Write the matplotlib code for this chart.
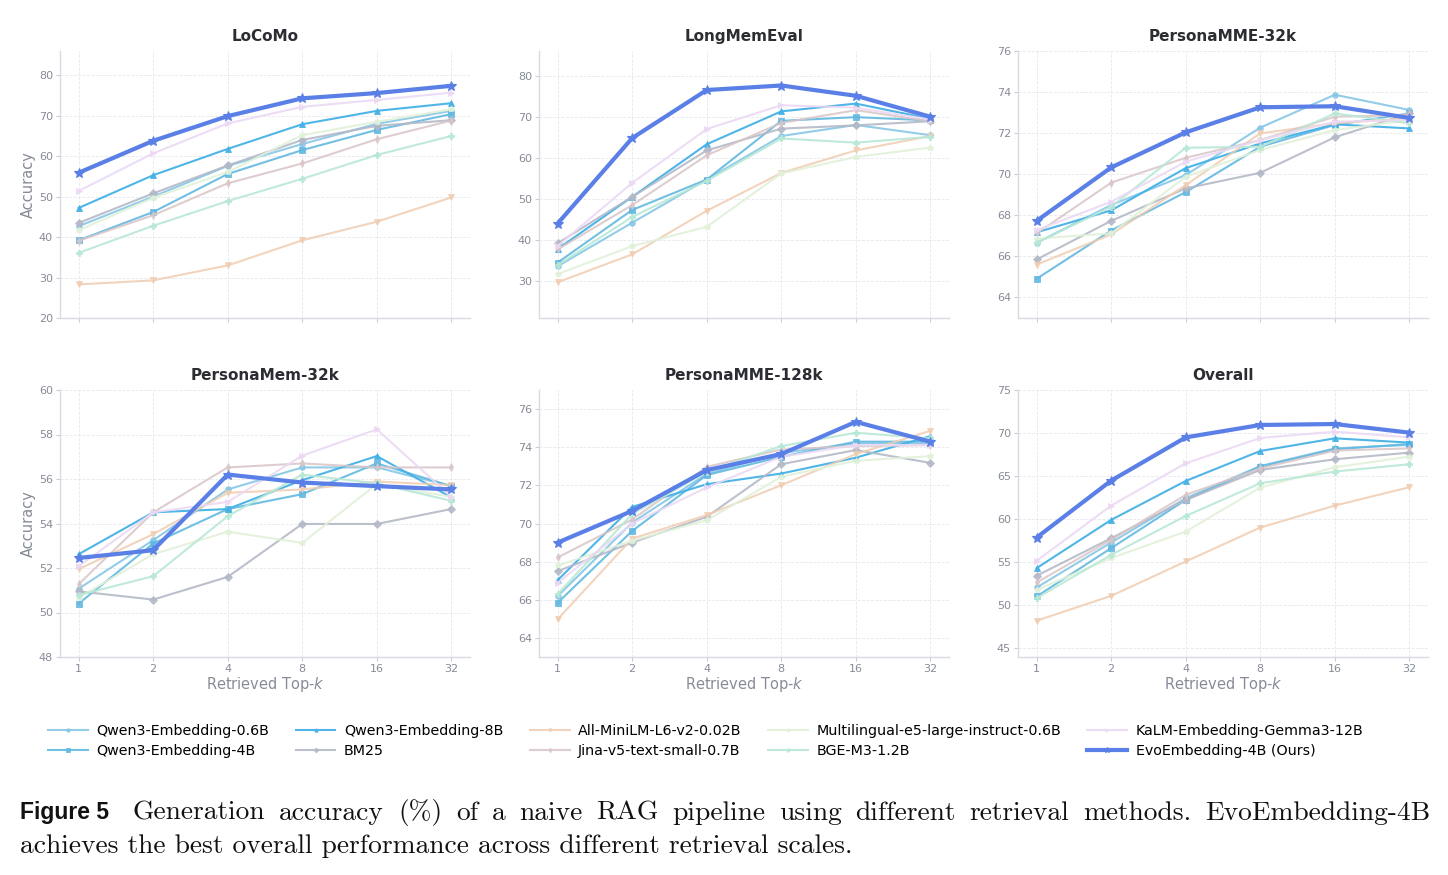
import matplotlib
matplotlib.use("Agg")
import matplotlib.pyplot as plt
import numpy as np

topk = [1, 2, 4, 8, 16, 32]
topk_labels = ["1", "2", "4", "8", "16", "32"]

methods = ["Qwen3-Embedding-0.6B", "Qwen3-Embedding-4B", "Qwen3-Embedding-8B", "BM25",
           "All-MiniLM-L6-v2-0.02B", "Jina-v5-text-small-0.7B",
           "Multilingual-e5-large-instruct-0.6B", "BGE-M3-1.2B",
           "KaLM-Embedding-Gemma3-12B", "EvoEmbedding-4B (Ours)"]

panels = ["LoCoMo", "LongMemEval", "PersonaMME-32k", "PersonaMem-32k", "PersonaMME-128k", "Overall"]

# values per panel, rows ordered as `methods`
locomo = [
    [42.7, 50.0, 57.6, 63.0, 68.0, 71.2],
    [39.2, 46.2, 55.6, 61.5, 66.5, 70.4],
    [47.2, 55.3, 61.8, 67.9, 71.2, 73.1],
    [43.5, 50.8, 57.7, 64.0, 67.5, 68.9],
    [28.3, 29.3, 33.0, 39.2, 43.8, 49.8],
    [39.1, 45.4, 53.3, 58.2, 64.2, 68.8],
    [41.7, 49.7, 56.1, 65.2, 68.5, 71.6],
    [36.1, 42.8, 48.9, 54.4, 60.3, 65.0],
    [51.4, 60.7, 68.1, 72.2, 73.9, 75.7],
    [55.9, 63.8, 69.9, 74.3, 75.6, 77.4],
]
longmemeval = [
    [33.6, 44.2, 54.7, 65.3, 68.0, 65.5],
    [34.5, 47.3, 54.7, 69.0, 69.9, 69.1],
    [37.8, 50.5, 63.3, 71.3, 73.2, 69.5],
    [39.2, 50.5, 61.8, 67.1, 67.9, 68.9],
    [29.7, 36.5, 47.1, 56.3, 61.8, 65.3],
    [37.7, 48.5, 60.6, 68.5, 71.6, 68.9],
    [31.7, 38.5, 43.2, 56.2, 60.2, 62.5],
    [33.9, 45.6, 54.4, 64.7, 63.7, 65.1],
    [38.5, 53.9, 67.0, 72.8, 72.2, 69.3],
    [44.0, 64.8, 76.5, 77.6, 75.1, 70.0],
]
personamme32k = [
    [66.66, 68.50, 69.96, 72.27, 73.87, 73.13],
    [64.91, 67.26, 69.13, 71.34, 72.40, 72.96],
    [67.17, 68.24, 70.30, 71.50, 72.43, 72.23],
    [65.85, 67.73, 69.31, 70.07, 71.80, 72.96],
    [65.60, 67.07, 69.47, 71.99, 72.48, 72.72],
    [67.12, 69.59, 70.80, 71.66, 72.80, 72.88],
    [66.87, 67.12, 69.88, 71.18, 72.15, 72.64],
    [66.66, 68.42, 71.29, 71.34, 72.96, 72.48],
    [67.28, 68.66, 70.61, 71.66, 72.56, 72.64],
    [67.73, 70.33, 72.04, 73.26, 73.31, 72.74],
]
personamem32k = [
    [51.07, 53.25, 55.53, 56.52, 56.52, 55.68],
    [50.40, 53.10, 54.65, 55.32, 56.70, 55.68],
    [52.62, 54.50, 54.65, 55.95, 57.03, 55.17],
    [50.95, 50.58, 51.60, 53.98, 53.98, 54.65],
    [51.95, 53.52, 55.38, 55.53, 55.88, 55.73],
    [51.27, 54.50, 56.52, 56.70, 56.52, 56.52],
    [50.67, 52.62, 53.63, 53.13, 55.77, 55.20],
    [50.78, 51.63, 54.33, 56.20, 55.80, 55.02],
    [52.08, 54.50, 54.97, 57.05, 58.23, 55.20],
    [52.45, 52.80, 56.20, 55.84, 55.68, 55.53],
]
personamme128k = [
    [66.19, 70.05, 72.60, 73.70, 74.20, 74.20],
    [65.84, 69.61, 72.54, 73.50, 74.29, 74.29],
    [67.03, 70.87, 72.06, 72.62, 73.45, 74.58],
    [67.50, 69.00, 70.35, 73.11, 73.85, 73.18],
    [64.98, 69.21, 70.44, 72.01, 73.64, 74.86],
    [68.22, 70.21, 72.97, 73.88, 74.06, 74.11],
    [67.80, 69.10, 70.17, 72.45, 73.29, 73.53],
    [66.30, 70.50, 72.71, 74.06, 74.76, 74.46],
    [66.89, 70.00, 71.89, 73.50, 74.11, 74.11],
    [69.00, 70.66, 72.80, 73.64, 75.33, 74.29],
]
overall = [
    [52.07, 57.29, 62.43, 66.18, 68.23, 68.62],
    [51.03, 56.64, 62.24, 66.10, 68.12, 68.73],
    [54.32, 59.92, 64.44, 67.92, 69.39, 68.89],
    [53.43, 57.79, 62.24, 65.72, 66.96, 67.73],
    [48.21, 51.10, 55.09, 59.03, 61.58, 63.71],
    [52.65, 57.60, 62.82, 65.90, 67.96, 68.23],
    [51.80, 55.48, 58.57, 63.67, 66.03, 67.26],
    [50.84, 55.86, 60.38, 64.17, 65.53, 66.38],
    [55.17, 61.58, 66.49, 69.43, 70.16, 69.50],
    [57.87, 64.48, 69.50, 70.94, 71.05, 70.05],
]
panel_data = [locomo, longmemeval, personamme32k, personamem32k, personamme128k, overall]
ylims = [(20, 86), (21, 86), (63, 76), (48, 60), (63, 77), (44, 75)]
yticks = [np.arange(20, 81, 10), np.arange(30, 81, 10), np.arange(64, 77, 2),
          np.arange(48, 61, 2), np.arange(64, 77, 2), np.arange(45, 76, 5)]

colors = ["#86c7e6", "#62b8e0", "#45b1e6", "#b4b9c7", "#f0cdb2", "#d9c5c7",
          "#e1f1da", "#b8e8d6", "#ecd9f4", "#5a7fe6"]
markers = ["o", "s", "^", "D", "v", "d", "p", "P", ">", "*"]
alphas = [0.9, 0.9, 0.95, 0.9, 0.85, 0.85, 0.9, 0.9, 0.9, 1.0]

W, H = 1448, 875
fig = plt.figure(figsize=(W / 100, H / 100), dpi=100)

lefts = [60, 539, 1018]
tops = [51, 390]
aw, ah = 410, 267

tick_c = "#868b96"
spine_c = "#d9dbe4"
x = np.arange(len(topk))

for i, name in enumerate(panels):
    r, c = divmod(i, 3)
    ax = fig.add_axes([lefts[c] / W, 1 - (tops[r] + ah) / H, aw / W, ah / H])
    data = panel_data[i]
    for j, m in enumerate(methods):
        evo = (j == len(methods) - 1)
        ax.plot(x, data[j], color=colors[j], marker=markers[j], alpha=alphas[j],
                lw=3.0 if evo else 1.5, ms=7 if evo else 4, mew=0.8 if evo else 0.6,
                label=m, zorder=5 if evo else 3)
    ax.set_xlim(-0.25, 5.25)
    ax.set_ylim(*ylims[i])
    ax.set_yticks(yticks[i])
    ax.set_xticks(x)
    if r == 1:
        ax.set_xticklabels(topk_labels)
        ax.set_xlabel("Retrieved Top-$k$", fontsize=10.5, color=tick_c, labelpad=1)
    else:
        ax.set_xticklabels([])
    if c == 0:
        ax.set_ylabel("Accuracy", fontsize=10.5, color=tick_c, labelpad=2)
    ax.set_title(name, fontsize=11, fontweight="bold", color="#2b2d33", pad=7)
    ax.grid(True, ls="--", lw=0.6, color="#e4e5ec", alpha=0.9)
    ax.set_axisbelow(True)
    for s in ["top", "right"]:
        ax.spines[s].set_visible(False)
    for s in ["left", "bottom"]:
        ax.spines[s].set_color(spine_c)
        ax.spines[s].set_linewidth(1.0)
    ax.tick_params(axis="both", labelsize=8, colors=tick_c, length=3, width=0.8,
                   color="#c9ccd6", pad=2)

handles, labels = ax.get_legend_handles_labels()
fig.legend(handles, labels, loc="upper left", bbox_to_anchor=(48 / W, 1 - 724 / H),
           ncol=5, frameon=False, fontsize=10.25, handlelength=2.8, columnspacing=1.85,
           labelspacing=0.42, handletextpad=0.6, markerscale=0.6,
           borderpad=0, borderaxespad=0)

# caption
fig.text(20 / W, 1 - 813 / H, "Figure 5", fontsize=16.5, fontweight="bold",
         family="Liberation Sans", va="center", ha="left", color="#111111")

renderer = fig.canvas.get_renderer()
line1 = "Generation accuracy (%) of a naive RAG pipeline using different retrieval methods.  EvoEmbedding-4B"
words = line1.split()
x0, x1 = 133, 1430
cap_fs = 19.8
objs = [fig.text(0, 1 - 813 / H, w, fontsize=cap_fs, family="cmr10", va="center",
                 ha="left", color="#111111") for w in words]
widths = [o.get_window_extent(renderer).width for o in objs]
gap = (x1 - x0 - sum(widths)) / (len(words) - 1)
pos = x0
for o, w in zip(objs, widths):
    o.set_x(pos / W)
    pos += w + gap
fig.text(20 / W, 1 - 846 / H,
         "achieves the best overall performance across different retrieval scales.",
         fontsize=cap_fs, family="cmr10", va="center", ha="left", color="#111111")

fig.savefig("out.png", dpi=100)
